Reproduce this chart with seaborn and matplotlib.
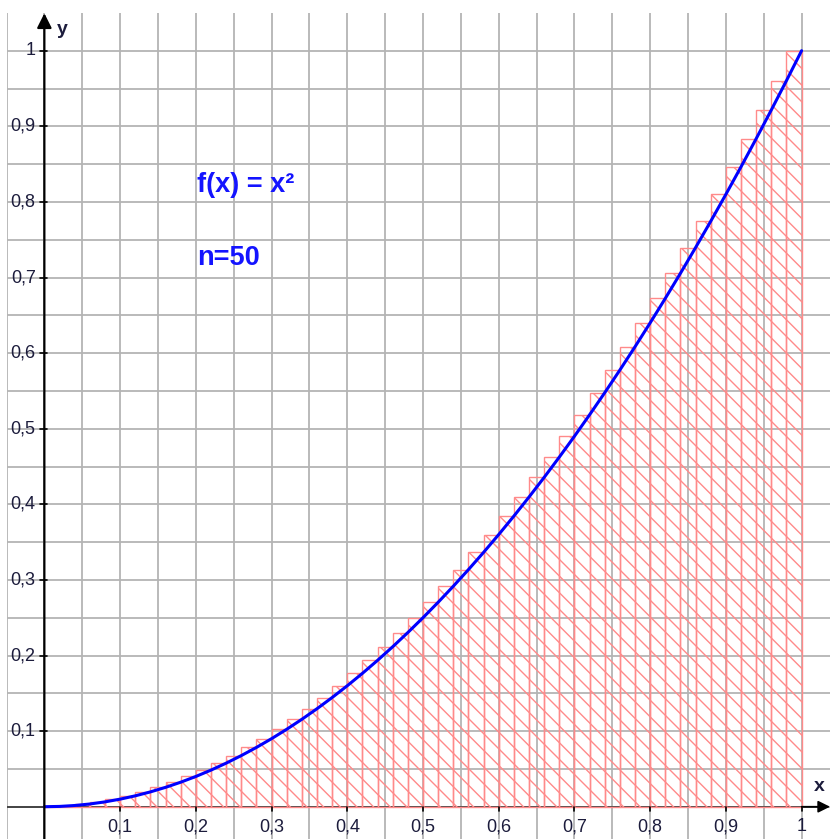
import matplotlib
matplotlib.use('Agg')
import matplotlib.pyplot as plt
import seaborn as sns
import pandas as pd

# right edges of the 50 subintervals and the upper-sum heights
x_right = [0.02, 0.04, 0.06, 0.08, 0.10, 0.12, 0.14, 0.16, 0.18, 0.20,
           0.22, 0.24, 0.26, 0.28, 0.30, 0.32, 0.34, 0.36, 0.38, 0.40,
           0.42, 0.44, 0.46, 0.48, 0.50, 0.52, 0.54, 0.56, 0.58, 0.60,
           0.62, 0.64, 0.66, 0.68, 0.70, 0.72, 0.74, 0.76, 0.78, 0.80,
           0.82, 0.84, 0.86, 0.88, 0.90, 0.92, 0.94, 0.96, 0.98, 1.00]
heights = [0.0004, 0.0016, 0.0036, 0.0064, 0.0100, 0.0144, 0.0196, 0.0256, 0.0324, 0.0400,
           0.0484, 0.0576, 0.0676, 0.0784, 0.0900, 0.1024, 0.1156, 0.1296, 0.1444, 0.1600,
           0.1764, 0.1936, 0.2116, 0.2304, 0.2500, 0.2704, 0.2916, 0.3136, 0.3364, 0.3600,
           0.3844, 0.4096, 0.4356, 0.4624, 0.4900, 0.5184, 0.5476, 0.5776, 0.6084, 0.6400,
           0.6724, 0.7056, 0.7396, 0.7744, 0.8100, 0.8464, 0.8836, 0.9216, 0.9604, 1.0000]
bar_width = 0.02

tick_values = [0.1, 0.2, 0.3, 0.4, 0.5, 0.6, 0.7, 0.8, 0.9, 1.0]
tick_labels = ['0,1', '0,2', '0,3', '0,4', '0,5', '0,6', '0,7', '0,8', '0,9', '1']
grid_values = [-0.05 + 0.05 * k for k in range(22)]

sns.set_style('white')
plt.rcParams['font.family'] = ['Liberation Sans', 'DejaVu Sans']
plt.rcParams['hatch.linewidth'] = 1.0

fig = plt.figure(figsize=(8.3, 8.39), dpi=100)
ax = fig.add_axes([6.5 / 830, 0, 1 - 6.5 / 830, 1 - 12.9 / 839])
ax.set_xlim(-0.05, 1.0375)
ax.set_ylim(-0.0427, 1.05)
for s in ax.spines.values():
    s.set_visible(False)
ax.set_xticks([])
ax.set_yticks([])

# grid
for g in grid_values:
    ax.axvline(g, color='#b4b4b4', lw=1.3, zorder=0)
    ax.axhline(g, color='#b4b4b4', lw=1.3, zorder=0)

# axes with arrows
ax.plot([-0.05, 1.03], [0, 0], color='#444444', lw=1.4, zorder=1)
ax.annotate('', xy=(1.0375, 0), xytext=(1.0, 0),
            arrowprops=dict(arrowstyle='-|>', color='black', lw=1.2, mutation_scale=18,
                            shrinkA=0, shrinkB=0), zorder=5)
ax.annotate('', xy=(0, 1.0495), xytext=(0, -0.0427),
            arrowprops=dict(arrowstyle='-|>', color='black', lw=1.6, mutation_scale=22,
                            shrinkA=0, shrinkB=0), zorder=5)

# rectangles of the upper sum
ax.bar([v - bar_width for v in x_right], heights, width=bar_width, align='edge',
       facecolor='none', edgecolor='#ff8a8a', hatch='\\\\', lw=1.0, zorder=2)

# curve through the sample points
curve = pd.DataFrame({'x': [0.0] + x_right, 'y': [0.0] + heights})
sns.lineplot(data=curve, x='x', y='y', ax=ax, color='#0000ff', lw=2.2, zorder=4)
ax.set_xlabel('')
ax.set_ylabel('')

# ticks and labels
tcol = '#1c1c3c'
for v, lab in zip(tick_values, tick_labels):
    ax.plot([v, v], [0, -0.006], color='black', lw=1.2, zorder=5)
    ax.text(v, -0.0265, lab, ha='center', va='center', fontsize=13, color=tcol)
    ax.plot([-0.006, 0.004], [v, v], color='black', lw=1.2, zorder=5)
    ax.text(-0.0115, v, lab, ha='right', va='center', fontsize=13, color=tcol)

ax.text(0.016, 1.028, 'y', ha='left', va='center', fontsize=14, fontweight='bold', color=tcol)
ax.text(1.024, 0.027, 'x', ha='center', va='center', fontsize=14, fontweight='bold', color=tcol)

ax.text(0.202, 0.822, 'f(x) = x²', ha='left', va='center', fontsize=19.5,
        fontweight='bold', color='#1414ff')
ax.text(0.202, 0.726, 'n=50', ha='left', va='center', fontsize=19.5,
        fontweight='bold', color='#1414ff')

plt.savefig('out.png', dpi=100)
